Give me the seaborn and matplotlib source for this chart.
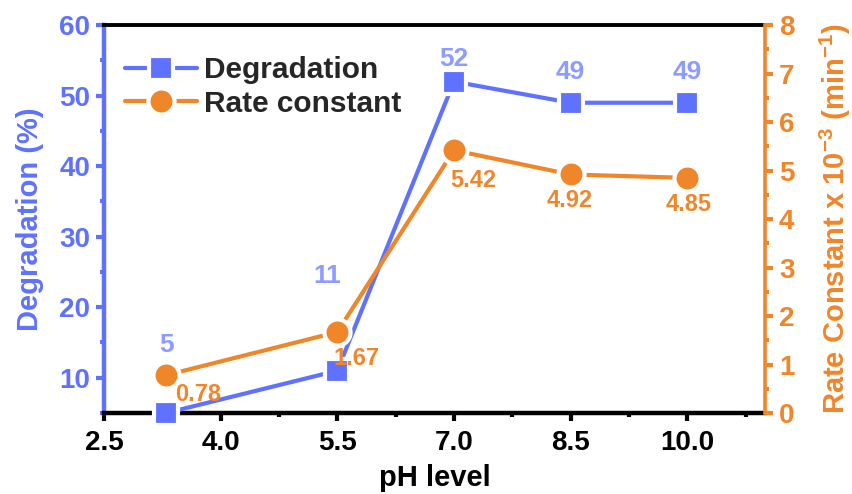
import numpy as np
import pandas as pd
import seaborn as sns
import matplotlib.pyplot as plt
from matplotlib.ticker import MultipleLocator, FixedLocator
from matplotlib.lines import Line2D

# Data
ph = [3.3, 5.5, 7.0, 8.5, 10.0]
degradation = [5, 11, 52, 49, 49]
rate_constant = [0.78, 1.67, 5.42, 4.92, 4.85]
x_ticks = [2.5, 4.0, 5.5, 7.0, 8.5, 10.0]
x_tick_labels = ["2.5", "4.0", "5.5", "7.0", "8.5", "10.0"]

BLUE = "#5F72FF"
BLUE_LABEL = "#8E9CFF"
ORANGE = "#F0862A"

sns.set_theme(style="ticks")
plt.rcParams["font.family"] = ["Liberation Sans", "DejaVu Sans"]
plt.rcParams["font.weight"] = "bold"
plt.rcParams["axes.labelweight"] = "bold"
plt.rcParams["mathtext.fontset"] = "custom"
plt.rcParams["mathtext.rm"] = "Liberation Sans:bold"
plt.rcParams["mathtext.bf"] = "Liberation Sans:bold"
plt.rcParams["mathtext.default"] = "bf"

fig = plt.figure(figsize=(8.52, 4.94), dpi=100)
ax = fig.add_axes([0.122, 0.164, 0.776, 0.785])
ax2 = ax.twinx()

df = pd.DataFrame({"pH": ph, "Degradation": degradation, "Rate": rate_constant})

LW = 3.0
MEW = 3.0
SQ_MS = 17.4
CI_MS = 18.8
line_kw = dict(lw=LW, markeredgecolor="white", markeredgewidth=MEW,
               solid_capstyle="round", legend=False, clip_on=False, zorder=3)

sns.lineplot(data=df, x="pH", y="Degradation", ax=ax, color=BLUE,
             marker="s", markersize=SQ_MS, **line_kw)
sns.lineplot(data=df, x="pH", y="Rate", ax=ax2, color=ORANGE,
             marker="o", markersize=CI_MS, **line_kw)

# Value labels (offsets in points from each mark)
deg_offsets = [(0, 49), (-7, 68), (0, 16), (0, 22), (0, 22)]
for x, y, off in zip(ph, degradation, deg_offsets):
    ax.annotate(f"{y}", (x, y), xytext=off, textcoords="offset points",
                ha="center", va="center", color=BLUE_LABEL, fontsize=19,
                fontweight="bold")
rate_offsets = [(23, -14), (14, -19), (14, -22), (-1, -19), (1, -19)]
for x, y, off in zip(ph, rate_constant, rate_offsets):
    ax2.annotate(f"{y:.2f}", (x, y), xytext=off, textcoords="offset points",
                 ha="center", va="center", color=ORANGE, fontsize=17,
                 fontweight="bold")

# Axes limits and ticks
ax.set_xlim(2.5, 11.0)
ax.set_ylim(5, 60)
ax2.set_ylim(0, 8)

ax.set_xticks(x_ticks, x_tick_labels)
ax.xaxis.set_minor_locator(FixedLocator([3.25, 4.75, 6.25, 7.75, 9.25, 10.75]))
ax.yaxis.set_major_locator(FixedLocator([10, 20, 30, 40, 50, 60]))
ax.yaxis.set_minor_locator(FixedLocator([5, 15, 25, 35, 45, 55]))
ax2.yaxis.set_major_locator(MultipleLocator(1))
ax2.yaxis.set_minor_locator(MultipleLocator(0.5))

ax.tick_params(axis="x", which="major", direction="out", length=6, width=3,
               color="black", labelsize=20, labelcolor="black", pad=6)
ax.tick_params(axis="x", which="minor", direction="out", length=3, width=3,
               color="black")
ax.tick_params(axis="y", which="major", direction="out", length=6, width=3,
               color=BLUE, labelsize=20, labelcolor=BLUE, pad=4)
ax.tick_params(axis="y", which="minor", direction="out", length=3, width=3,
               color=BLUE)
ax2.tick_params(axis="y", which="major", direction="out", length=6, width=3,
                color=ORANGE, labelsize=20, labelcolor=ORANGE, pad=4)
ax2.tick_params(axis="y", which="minor", direction="out", length=3, width=3,
                color=ORANGE)
for lab in ax.get_xticklabels() + ax.get_yticklabels() + ax2.get_yticklabels():
    lab.set_fontweight("bold")

# Spines
ax.spines["left"].set_color(BLUE)
ax.spines["left"].set_linewidth(3.2)
ax.spines["bottom"].set_color("black")
ax.spines["bottom"].set_linewidth(3.2)
ax.spines["top"].set_color("black")
ax.spines["top"].set_linewidth(2.8)
ax.spines["right"].set_visible(False)
for s in ("left", "top", "bottom"):
    ax2.spines[s].set_visible(False)
ax2.spines["right"].set_color(ORANGE)
ax2.spines["right"].set_linewidth(2.6)

# Axis labels
ax.set_xlabel("pH level", fontsize=21, fontweight="bold", color="black",
              labelpad=6)
ax.set_ylabel("Degradation (%)", fontsize=21, fontweight="bold", color=BLUE,
              labelpad=11)
ax2.set_ylabel(r"Rate Constant x 10$^{-3}$ (min$^{-1}$)",
               fontsize=21, fontweight="bold", color=ORANGE, labelpad=17)

# Legend
handles = [
    Line2D([], [], color=BLUE, lw=LW, marker="s", markersize=SQ_MS,
           markeredgecolor="white", markeredgewidth=MEW),
    Line2D([], [], color=ORANGE, lw=LW, marker="o", markersize=CI_MS,
           markeredgecolor="white", markeredgewidth=MEW),
]
ax2.legend(handles, ["Degradation", "Rate constant"], loc="upper left",
           bbox_to_anchor=(0.032, 0.92), frameon=False, borderpad=0,
           borderaxespad=0, handlelength=2.4, handletextpad=0.25,
           labelspacing=0.18, prop={"weight": "bold", "size": 21.5})

fig.savefig("out.png", dpi=100)
